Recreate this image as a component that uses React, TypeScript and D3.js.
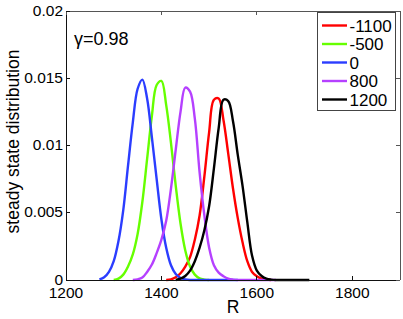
import React from "react";
import * as d3 from "d3";

const R_STEP = 10;

const seriesLabels = ["-1100", "-500", "0", "800", "1200"];
const seriesColors = ["#ff0000", "#66ff00", "#2b3dff", "#b540ff", "#000000"];

const redStart = 1410;
const redValues = [0, 0.00005, 0.0002, 0.0005, 0.001, 0.0017, 0.003, 0.0048, 0.0077, 0.011, 0.0134, 0.0135, 0.0119, 0.0094, 0.0068, 0.0046, 0.0028, 0.0014, 0.0006, 0.00028, 0.0001, 0.00003, 0];

const greenStart = 1300;
const greenValues = [0, 0.0001, 0.0004, 0.001, 0.0019, 0.0034, 0.0058, 0.009, 0.0122, 0.0145, 0.0148, 0.013, 0.0102, 0.007, 0.0042, 0.0022, 0.001, 0.0004, 0.00012, 0.00003, 0];

const blueStart = 1270;
const blueValues = [0.00005, 0.0002, 0.0006, 0.0014, 0.0029, 0.0052, 0.0085, 0.0117, 0.0142, 0.0149, 0.0135, 0.0106, 0.0075, 0.0045, 0.0024, 0.0011, 0.00045, 0.00015, 0.00004, 0, 0, 0, 0, 0, 0, 0, 0, 0, 0, 0];

const purpleStart = 1340;
const purpleValues = [0, 0.00005, 0.00018, 0.0006, 0.00115, 0.002, 0.003, 0.0044, 0.0068, 0.0097, 0.0125, 0.0143, 0.014, 0.012, 0.008, 0.0048, 0.0024, 0.0011, 0.00055, 0.00028, 0.0001, 0.00003, 0, 0, 0, 0, 0, 0, 0, 0, 0];

const blackStart = 1430;
const blackValues = [0, 0.0001, 0.0003, 0.0007, 0.0014, 0.0024, 0.0037, 0.0055, 0.0083, 0.0113, 0.0134, 0.0133, 0.0118, 0.0093, 0.007, 0.0043, 0.0018, 0.0007, 0.0003, 0.0001, 0.00003, 0, 0, 0, 0, 0, 0, 0, 0];

const seriesStarts = [redStart, greenStart, blueStart, purpleStart, blackStart];
const seriesValues = [redValues, greenValues, blueValues, purpleValues, blackValues];

const xTicks = [1200, 1400, 1600, 1800];
const yTicks = [0, 0.005, 0.01, 0.015, 0.02];
const yTickLabels = ["0", "0.005", "0.01", "0.015", "0.02"];

const W = 403;
const H = 319;
const L = 66, R = 400, T = 11, B = 280;
const FONT = "'Liberation Sans', Arial, Helvetica, sans-serif";

export default function App() {
  const x = d3.scaleLinear().domain([1200, 1900]).range([L, R]);
  const y = d3.scaleLinear().domain([0, 0.02]).range([B, T]);
  const line = d3
    .line<[number, number]>()
    .x((d) => x(d[0]))
    .y((d) => y(d[1]))
    .curve(d3.curveCatmullRom);

  const legendYs = [25.5, 44, 62.5, 81, 99.5];
  const tickLen = 4;

  return (
    <svg
      width={W}
      height={H}
      style={{ position: "absolute", left: 0, top: 0, background: "#fff" }}
      fontFamily={FONT}
    >
      <rect x={0} y={0} width={W} height={H} fill="#fff" />
      <g fill="none" strokeWidth={2.4} strokeLinejoin="round">
        {seriesValues.map((vals, i) => {
          const pts: [number, number][] = vals.map((v, j) => [seriesStarts[i] + j * R_STEP, v]);
          return <path key={i} d={line(pts) || ""} stroke={seriesColors[i]} />;
        })}
      </g>
      <g stroke="#111" strokeWidth={1} shapeRendering="crispEdges" fill="none">
        <line x1={L} x2={L} y1={T} y2={B} />
        <line x1={L} x2={R} y1={B} y2={B} />
        <line x1={L} x2={R} y1={T} y2={T} stroke="#555" />
        <line x1={R} x2={R} y1={T} y2={B} stroke="#555" />
        {xTicks.map((t) => (
          <g key={"xt" + t}>
            <line x1={x(t)} x2={x(t)} y1={B} y2={B - tickLen} />
            <line x1={x(t)} x2={x(t)} y1={T} y2={T + tickLen} stroke="#555" />
          </g>
        ))}
        {yTicks.map((t) => (
          <g key={"yt" + t}>
            <line x1={L} x2={L + tickLen} y1={y(t)} y2={y(t)} />
            <line x1={R} x2={R - tickLen} y1={y(t)} y2={y(t)} stroke="#555" />
          </g>
        ))}
      </g>
      <g fontSize={15.5} fill="#000">
        {xTicks.map((t) => (
          <text key={"xl" + t} x={x(t)} y={297.5} textAnchor="middle">
            {t}
          </text>
        ))}
        {yTicks.map((t, i) => (
          <text key={"yl" + t} x={63} y={y(t) + 4.5} textAnchor="end">
            {yTickLabels[i]}
          </text>
        ))}
      </g>
      <text x={(L + R) / 2} y={313} textAnchor="middle" fontSize={17.5}>
        R
      </text>
      <text
        transform={`translate(19,${(T + B) / 2 - 4}) rotate(-90)`}
        textAnchor="middle"
        fontSize={17.5}
      >
        steady state distribution
      </text>
      <text x={74} y={45} fontSize={18}>
        γ=0.98
      </text>
      <rect x={317.5} y={12.5} width={78} height={98} fill="#fff" stroke="#444" strokeWidth={1} />
      {seriesLabels.map((lab, i) => (
        <g key={"lg" + i}>
          <line x1={322} x2={347} y1={legendYs[i]} y2={legendYs[i]} stroke={seriesColors[i]} strokeWidth={2.4} />
          <text x={349.5} y={legendYs[i] + 6} fontSize={17}>
            {lab}
          </text>
        </g>
      ))}
    </svg>
  );
}
